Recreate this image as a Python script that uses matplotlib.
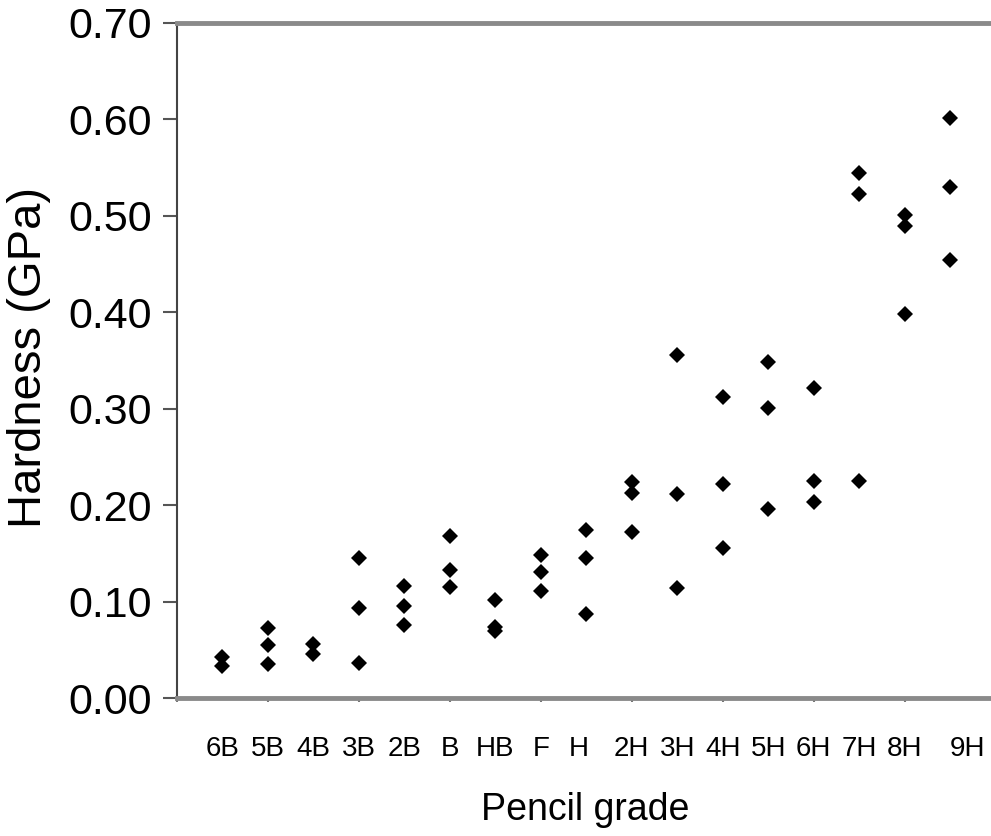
import matplotlib
matplotlib.use("Agg")
import matplotlib.pyplot as plt
import matplotlib.transforms as mtransforms

# pencil grades along the x axis
grades = ["6B", "5B", "4B", "3B", "2B", "B", "HB", "F", "H",
          "2H", "3H", "4H", "5H", "6H", "7H", "8H", "9H"]

# hardness readings (GPa) for each grade
hardness = [
    [0.043, 0.033],
    [0.073, 0.055, 0.035],
    [0.056, 0.046],
    [0.145, 0.093, 0.036],
    [0.116, 0.095, 0.076],
    [0.168, 0.133, 0.115],
    [0.102, 0.074, 0.070],
    [0.148, 0.131, 0.111],
    [0.174, 0.145, 0.087],
    [0.224, 0.213, 0.172],
    [0.356, 0.212, 0.114],
    [0.312, 0.222, 0.156],
    [0.348, 0.301, 0.196],
    [0.322, 0.225, 0.203],
    [0.544, 0.523, 0.225],
    [0.501, 0.489, 0.398],
    [0.602, 0.530, 0.454],
]

y_ticks = [0.0, 0.1, 0.2, 0.3, 0.4, 0.5, 0.6, 0.7]

plt.rcParams["font.family"] = ["Liberation Sans", "DejaVu Sans"]

fig = plt.figure(figsize=(9.91, 8.36), dpi=100)
ax = fig.add_axes([177 / 991, 138 / 836, 1 - 177 / 991, 675 / 836])

for i, vals in enumerate(hardness):
    xs = [i + 1] * len(vals)
    ax.plot(xs, vals, linestyle="none", marker="D", markersize=8.5,
            color="black", markeredgewidth=0)

ax.set_xlim(0, 17.9)
ax.set_ylim(0, 0.7)

# y axis
ax.set_yticks(y_ticks)
ax.set_yticklabels(["%.2f" % t for t in y_ticks], fontsize=31)
ax.tick_params(axis="y", direction="out", length=10, width=1.5,
               color="#555555", pad=8)

# x axis: small ticks every other grade, labels under each grade
ax.xaxis.remove_overlapping_locs = False
ax.set_xticks(range(0, 18, 2))
ax.set_xticklabels([])
ax.tick_params(axis="x", which="major", direction="out", length=3,
               width=1.5, color="#777777")
ax.set_xticks(range(1, len(grades) + 1), minor=True)
ax.set_xticklabels(grades, minor=True, fontsize=20)
ax.tick_params(axis="x", which="minor", length=0, pad=27)

# a couple of labels sit off their grade in the original
label_shift = {"H": -8, "9H": 17}
for lab in ax.get_xticklabels(minor=True):
    dx = label_shift.get(lab.get_text(), 0)
    if dx:
        lab.set_transform(lab.get_transform() +
                          mtransforms.ScaledTranslation(dx / 100, 0, fig.dpi_scale_trans))

ax.spines["right"].set_visible(False)
ax.spines["top"].set_color("#8a8a8a")
ax.spines["top"].set_linewidth(3.5)
ax.spines["bottom"].set_color("#8a8a8a")
ax.spines["bottom"].set_linewidth(3.5)
ax.spines["left"].set_color("#444444")
ax.spines["left"].set_linewidth(1.5)

ax.set_ylabel("Hardness (GPa)", fontsize=34)
ax.yaxis.set_label_coords(-0.155, 0.505)
ax.set_xlabel("Pencil grade", fontsize=27)
ax.xaxis.set_label_coords(0.502, -0.14)

fig.savefig("out.png", dpi=100)
